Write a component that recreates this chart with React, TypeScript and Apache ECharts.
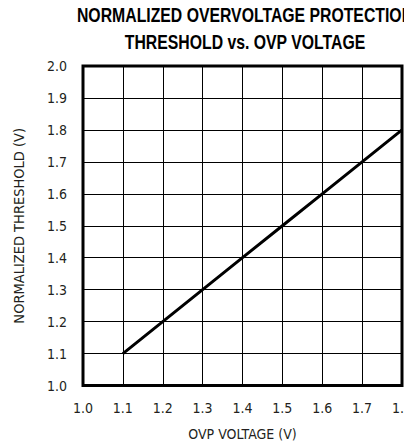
import React, { useEffect, useRef } from "react";
import * as echarts from "echarts";

const xValues = [1.1, 1.2, 1.3, 1.4, 1.5, 1.6, 1.7, 1.8];
const yValues = [1.1, 1.2, 1.3, 1.4, 1.5, 1.6, 1.7, 1.8];
const titleLines = ["NORMALIZED OVERVOLTAGE PROTECTION", "THRESHOLD vs. OVP VOLTAGE"];
const xName = "OVP VOLTAGE (V)";
const yName = "NORMALIZED THRESHOLD (V)";

const FONT = "'Liberation Sans Narrow', 'DejaVu Sans Condensed', 'Roboto', sans-serif";
const TITLE_FONT = "'Liberation Sans', Arial, sans-serif";
const INK = "#000";
const TEXT = "#231f20";

export default function App() {
  const ref = useRef<HTMLDivElement>(null);
  useEffect(() => {
    if (!ref.current) return;
    const chart = echarts.init(ref.current, null, { renderer: "svg" });
    chart.setOption({
      animation: false,
      backgroundColor: "#fff",
      graphic: titleLines.map((line, i) => ({
        type: "text",
        x: 245,
        y: 15.5 + i * 27,
        scaleX: 0.79,
        silent: true,
        style: {
          text: line,
          fill: INK,
          fontFamily: TITLE_FONT,
          fontWeight: "bold",
          fontSize: 20,
          align: "center",
          verticalAlign: "middle",
        },
      })),
      grid: {
        left: 83,
        top: 66,
        right: 2,
        bottom: 62.5,
        show: true,
        borderColor: INK,
        borderWidth: 3,
        containLabel: false,
        outerBoundsMode: "none",
      },
      xAxis: {
        type: "value",
        min: 1.0,
        max: 1.8,
        interval: 0.1,
        name: xName,
        nameLocation: "middle",
        nameGap: 41,
        nameTextStyle: { fontFamily: FONT, fontSize: 14, color: TEXT },
        axisLine: { show: false },
        axisTick: { show: false },
        axisLabel: {
          margin: 15,
          fontFamily: FONT,
          fontSize: 14,
          color: TEXT,
          formatter: (v: number) => v.toFixed(1),
        },
        splitLine: { show: true, lineStyle: { color: INK, width: 1 } },
      },
      yAxis: {
        type: "value",
        min: 1.0,
        max: 2.0,
        interval: 0.1,
        name: yName,
        nameLocation: "middle",
        nameGap: 57,
        nameTextStyle: { fontFamily: FONT, fontSize: 14.5, color: TEXT },
        axisLine: { show: false },
        axisTick: { show: false },
        axisLabel: {
          margin: 16,
          fontFamily: FONT,
          fontSize: 14,
          color: TEXT,
          formatter: (v: number) => v.toFixed(1),
        },
        splitLine: { show: true, lineStyle: { color: INK, width: 1 } },
      },
      series: [
        {
          type: "line",
          data: xValues.map((x, i) => [x, yValues[i]]),
          showSymbol: false,
          symbol: "none",
          lineStyle: { color: INK, width: 3 },
        },
      ],
    });
    return () => chart.dispose();
  }, []);
  return (
    <div
      ref={ref}
      style={{ position: "absolute", left: 0, top: 0, width: 404, height: 448 }}
    />
  );
}
